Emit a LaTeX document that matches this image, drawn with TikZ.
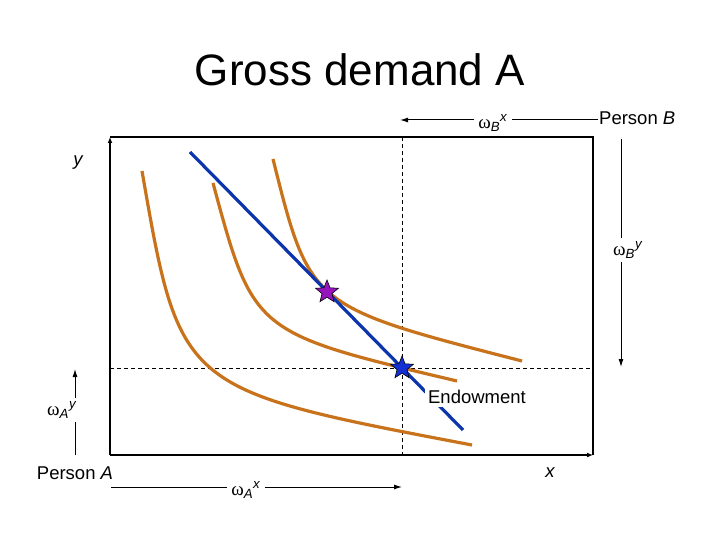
\documentclass[tikz,border=0pt]{standalone}
\usepackage{fontspec}
\setmainfont{Liberation Sans}
\newfontfamily\grkfont{Liberation Serif}
\usetikzlibrary{arrows.meta,shapes.geometric}
\definecolor{curveorange}{RGB}{200,115,28}
\definecolor{budgetblue}{RGB}{12,52,172}
\definecolor{optpurple}{RGB}{150,20,190}
\definecolor{endowblue}{RGB}{20,48,210}
\newcommand{\omegalab}[2]{{\grkfont ω}\textsubscript{\textit{#1}}\textsuperscript{\textit{#2}}}
\tikzset{
  axis/.style={black,line width=1.6pt},
  axistip/.style={axis,-{Latex[length=6pt,width=5pt]}},
  guide/.style={black,line width=0.8pt,dash pattern=on 4pt off 3pt},
  flow/.style={-{Latex[length=8pt,width=5pt]},line width=1pt},
  bar/.style={line width=1pt},
  indiff/.style={curveorange,line width=3.2pt},
  budget/.style={budgetblue,line width=3.2pt},
  lab/.style={font=\fontsize{18.5}{21}\selectfont,inner sep=1pt},
  omlab/.style={font=\fontsize{19}{21}\selectfont,inner sep=4pt},
  pt/.style={star,star points=5,star point ratio=2.3,minimum size=24pt,
             inner sep=0pt,draw=black,line width=0.6pt},
}
\begin{document}
\begin{tikzpicture}[x=1pt,y=-1pt]
  \useasboundingbox (0,0) rectangle (720,540);
  \node[font=\fontsize{44}{50}\selectfont] (title) at (360,70) {Gross demand A};

  % Edgeworth box
  \coordinate (O) at (110,455);
  \coordinate (TL) at (110,137);
  \coordinate (TR) at (593,137);
  \coordinate (BR) at (593,455);
  \coordinate (E) at (402,368);
  \draw[axis] (TL) -- (TR) -- (BR);
  \draw[axistip] (O) -- (TL);
  \draw[axistip] (O) -- (BR);
  \draw[guide] (E |- TL) -- (E |- O);
  \draw[guide] (E -| TL) -- (E -| TR);

  % indifference curves
  \coordinate (K1) at (180,389.6);
  \coordinate (K2) at (253.5,332.9);
  \coordinate (K3) at (309.9,306.5);
  \draw[indiff] (142,171) .. controls (K1) and (K1) .. (472,445);
  \draw[indiff] (213,183) .. controls (K2) and (K2) .. (457,381);
  \draw[indiff] (273,159) .. controls (K3) and (K3) .. (522,361);

  % budget line
  \coordinate (P0) at (190,152);
  \coordinate (P1) at (463,430);
  \draw[budget] (P0) -- (P1);

  \node[lab,fill=white,inner sep=3pt] (endow) at (477,397) {Endowment};
  \node[pt,fill=optpurple] (opt) at (327,292) {};
  \node[pt,fill=endowblue] (endpt) at (E) {};

  \node[lab,font=\fontsize{18.5}{21}\selectfont\itshape] (ylab) at (78,163) {y};
  \node[lab,font=\fontsize{18.5}{21}\selectfont\itshape] (xlab) at (550,473) {x};

  % person B
  \node[lab,anchor=west] (pB) at (598,118) {Person \textit{B}};
  \node[omlab] (wBx) at (493,123) {\omegalab{B}{x}};
  \coordinate (Bx1) at (400,120);
  \draw[flow] (wBx.west |- Bx1) -- (Bx1);
  \draw[bar] (pB.west |- Bx1) -- (wBx.east |- Bx1);
  \node[omlab] (wBy) at (628,250) {\omegalab{B}{y}};
  \coordinate (By0) at (621,139);
  \coordinate (By1) at (621,367);
  \draw[bar] (By0) -- (By0 |- wBy.north);
  \draw[flow] (By0 |- wBy.south) -- (By1);

  % person A
  \node[lab] (pA) at (75,473) {Person \textit{A}};
  \node[omlab] (wAy) at (62,410) {\omegalab{A}{y}};
  \coordinate (Ay0) at (75,455);
  \coordinate (Ay1) at (75,369);
  \draw[bar] (Ay0) -- (Ay0 |- wAy.south);
  \draw[flow] (Ay0 |- wAy.north) -- (Ay1);
  \node[omlab] (wAx) at (246,490) {\omegalab{A}{x}};
  \coordinate (Ax0) at (111,487);
  \coordinate (Ax1) at (402,487);
  \draw[bar] (Ax0) -- (Ax0 -| wAx.west);
  \draw[flow] (Ax0 -| wAx.east) -- (Ax1);
\end{tikzpicture}
\end{document}
